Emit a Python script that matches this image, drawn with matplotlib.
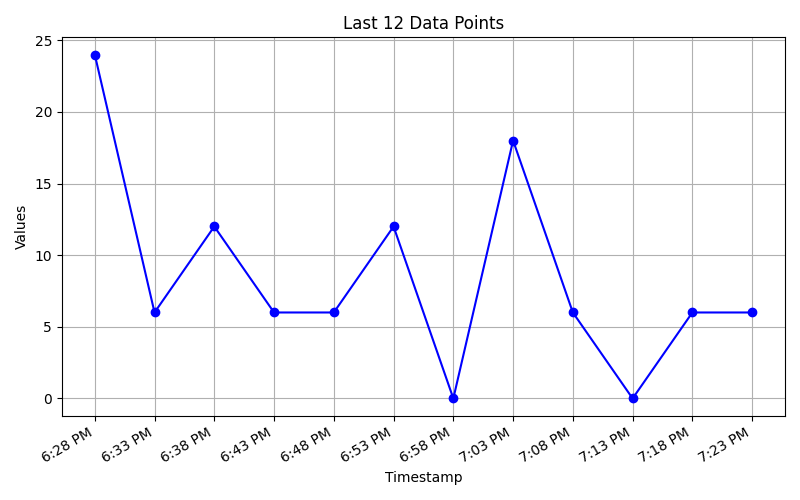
import matplotlib
matplotlib.use('Agg')
import matplotlib.pyplot as plt

timestamps = ['6:28 PM', '6:33 PM', '6:38 PM', '6:43 PM', '6:48 PM', '6:53 PM',
              '6:58 PM', '7:03 PM', '7:08 PM', '7:13 PM', '7:18 PM', '7:23 PM']
values = [24, 6, 12, 6, 6, 12, 0, 18, 6, 0, 6, 6]

fig, ax = plt.subplots(figsize=(8, 5), dpi=100)
ax.plot(range(len(values)), values, color='blue', marker='o')
ax.set_xticks(range(len(timestamps)))
ax.set_xticklabels(timestamps)
ax.set_title('Last 12 Data Points')
ax.set_xlabel('Timestamp')
ax.set_ylabel('Values')
ax.grid(True)
fig.autofmt_xdate()
plt.tight_layout()
plt.savefig('out.png')
